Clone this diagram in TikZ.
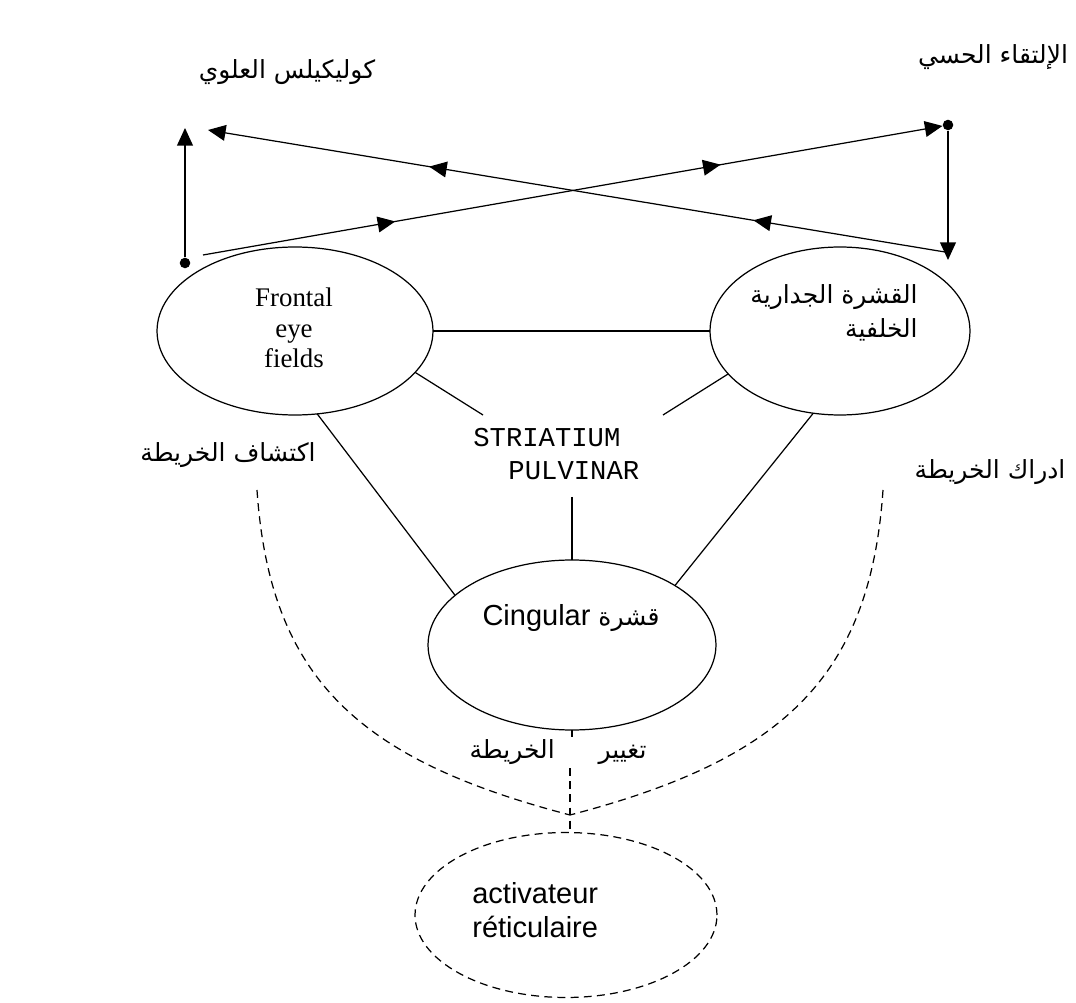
\documentclass[tikz,border=0pt]{standalone}
\usepackage{fontspec}
\setmainfont{Liberation Serif}
\newfontfamily\arabicfont[Script=Arabic]{DejaVu Sans}
\newfontfamily\latinsans{Liberation Sans}
\newfontfamily\slabfont{Liberation Mono}
\TeXXeTstate=1
\usetikzlibrary{arrows.meta,shapes.geometric,decorations.markings}
\tikzstyle{area}=[ellipse,draw,line width=0.7pt,inner sep=0pt,outer sep=0pt]
\tikzstyle{dot}=[circle,fill=black,minimum size=6pt,inner sep=0pt]
\tikzstyle{link}=[draw,line width=0.7pt]
\tikzstyle{route}=[draw,line width=0.7pt,dash pattern=on 4.5pt off 3pt]
\tikzstyle{flow}=[link,-{Triangle[length=10pt,width=9pt]},postaction={decorate},
  decoration={markings,
    mark=at position 0.26 with {\arrow{Triangle[length=10pt,width=9pt]}},
    mark=at position 0.70 with {\arrow{Triangle[length=10pt,width=9pt]}}}]
\tikzstyle{ar}=[inner sep=0pt,font=\arabicfont\fontsize{14.2}{19}\selectfont]

\begin{document}
\begin{tikzpicture}[x=0.02cm,y=-0.02cm]
      \useasboundingbox (0,0) rectangle (1076,1003);
      % areas
      \node[area,minimum width=5.52cm,minimum height=3.36cm] (fef) at (295,331) {};
      \node[area,minimum width=5.2cm,minimum height=3.36cm] (pc) at (840,331) {};
      \node[area,minimum width=5.76cm,minimum height=3.4cm] (cg) at (572,645) {};
      \node[area,dash pattern=on 4.5pt off 3pt,minimum width=6.04cm,minimum height=3.3cm] (ra) at (566,915) {};
      % labels
      \node[ar] (colsup) at (287,72) {\beginR كوليكيلس العلوي\endR};
      \node[ar] (ltq) at (993,57) {\beginR الإلتقاء الحسي\endR};
      \node[font=\fontsize{15.3}{17.5}\selectfont,align=center] (feft) at (294,328) {Frontal\\eye\\fields};
      \node[ar,anchor=east,align=right] (pct) at (918,313) {\beginR القشرة الجدارية\endR\\\beginR الخلفية\endR};
      \node[font=\slabfont\fontsize{15.5}{19}\selectfont,anchor=west,align=left,inner sep=0pt] (str) at (473,454) {STRIATIUM\\\hspace*{20pt}PULVINAR};
      \node[ar] (ecf) at (228,455) {\beginR اكتشاف الخريطة\endR};
      \node[ar] (idr) at (990,472) {\beginR ادراك الخريطة\endR};
      \node[ar] (cgt) at (571,618) {\beginR قشرة \beginL{\latinsans\fontsize{16.5}{20}\selectfont Cingular}\endL\endR};
      \node[ar] (tgh) at (558,752) {\beginR تغيير\hspace{25pt}الخريطة\endR};
      \node[font=\latinsans\fontsize{16.5}{19.5}\selectfont,anchor=west,align=left,inner sep=0pt] (rat) at (472,910) {activateur\\réticulaire};
      % dots and free ends
      \node[dot] (dl) at (185,263) {};
      \node[dot] (dr) at (948,125) {};
      \coordinate (up) at (185,128);
      \coordinate (dn) at (948,260);
      \coordinate (a1) at (203,255);
      \coordinate (b1) at (945,252);
      \coordinate (b2) at (208,130);
      \coordinate (sl) at (483,415);
      \coordinate (sr) at (663,415);
      \coordinate (sb) at (572,497);
      \coordinate (el) at (257,490);
      \coordinate (er) at (883,490);
      \coordinate (jn) at (570,815);
      \coordinate (vt) at (570,768);
      % arrows
      \draw[link,-{Triangle[length=10pt,width=9pt]}] (dl) -- (up);
      \draw[link,-{Triangle[length=10pt,width=9pt]}] (dr) -- (dn);
      \draw[flow] (a1) -- (dr);
      \draw[flow] (b1) -- (b2);
      % solid links
      \draw[link] (fef.east) -- (pc.west);
      \draw[link] (fef.-19) -- (sl);
      \draw[link] (pc.-159) -- (sr);
      \draw[link] (sb) -- (cg.north);
      \draw[link] (fef.-75) -- (cg.157.5);
      \draw[link] (pc.-108.6) -- (cg.30.5);
      \draw[link] (cg.south) -- ++(0,7);
      % dashed routes
      \draw[route] (el) .. controls (270,680) and (360,760) .. (jn);
      \draw[route] (er) .. controls (870,680) and (780,760) .. (jn);
      \draw[route] (vt) -- (vt |- ra.north);
\end{tikzpicture}
\end{document}
